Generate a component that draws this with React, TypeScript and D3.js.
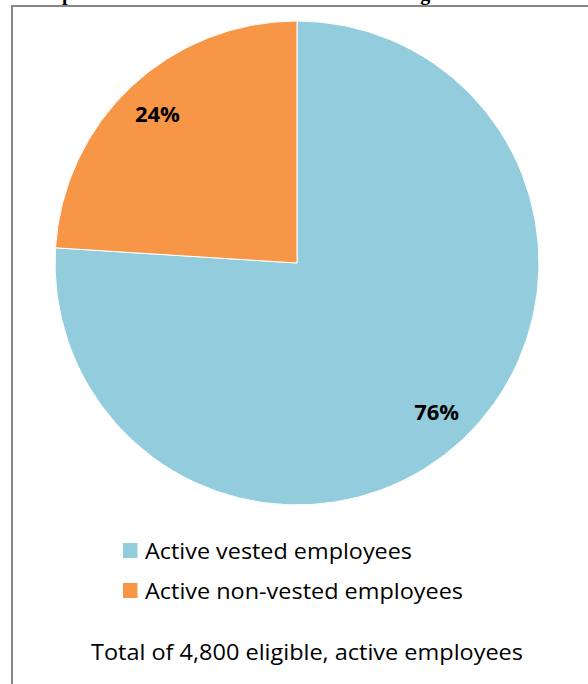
import React from "react";
import * as d3 from "d3";

const categories = ["Active vested employees", "Active non-vested employees"];
const values = [76, 24];
const labels = ["76%", "24%"];
const colors = ["#93CDDD", "#F79646"];
const footer = "Total of 4,800 eligible, active employees";
const title = "Graph 1: Vested Status of Active Members Eligible";

export default function App() {
  const W = 588, H = 684;
  const cx = 297, cy = 263, r = 242;
  const pie = d3.pie<number>().sort(null).value((d) => d).startAngle(0).endAngle(2 * Math.PI);
  const arcs = pie(values);
  const arc = d3.arc<d3.PieArcDatum<number>>().innerRadius(0).outerRadius(r);
  const labelArc = d3.arc<d3.PieArcDatum<number>>().innerRadius(204).outerRadius(204);
  const font = "'Open Sans', sans-serif";
  const legendLengths = [267, 318];
  return (
    <svg width={W} height={H} style={{ position: "absolute", left: 0, top: 0 }}>
      <rect width={W} height={H} fill="#fff" />
      <text x={27.6} y={0} fontFamily="'Liberation Serif', serif" fontWeight="bold" fontSize={20} fill="#000">
        {title}
      </text>
      <path d={`M12,700 L12,6 L600,6`} fill="none" stroke="#878787" strokeWidth={2} />
      <g transform={`translate(${cx},${cy})`}>
        {arcs.map((a, i) => (
          <path key={i} d={arc(a) || ""} fill={colors[i]} stroke="#fff" strokeWidth={1} />
        ))}
        {arcs.map((a, i) => {
          const [x, y] = labelArc.centroid(a);
          return (
            <text key={i} x={x} y={y + 8} textAnchor="middle" fontFamily={font} fontWeight="bold" fontSize={22} fill="#000">
              {labels[i]}
            </text>
          );
        })}
      </g>
      {categories.map((c, i) => (
        <g key={c} transform={`translate(123,${543 + i * 40})`}>
          <rect width={14.5} height={15} fill={colors[i]} />
          <text x={22} y={16} fontFamily={font} fontSize={21} fill="#000" textLength={legendLengths[i]} lengthAdjust="spacingAndGlyphs">{c}</text>
        </g>
      ))}
      <text x={91} y={660} fontFamily={font} fontSize={21} fill="#000" textLength={432} lengthAdjust="spacingAndGlyphs">{footer}</text>
    </svg>
  );
}
